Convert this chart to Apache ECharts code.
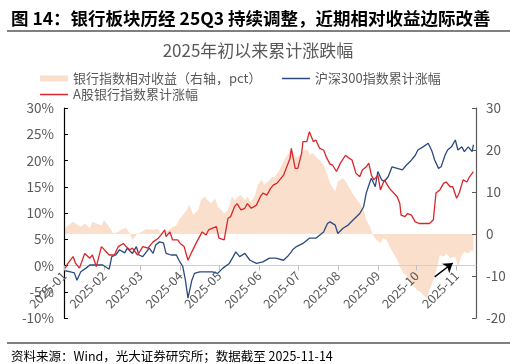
<!DOCTYPE html>
<html><head><meta charset="utf-8">
<script src="https://cdn.jsdelivr.net/npm/echarts@6/dist/echarts.min.js"></script>
<style>html,body{margin:0;padding:0;background:#fff}#c{width:516px;height:364px}</style>
</head><body><div id="c"></div>
<script>
const YEAR = '2025';
const titleText = '图 14：银行板块历经 25Q3 持续调整，近期相对收益边际改善';
const subTitleText = '2025年初以来累计涨跌幅';
const sourceText = '资料来源：Wind，光大证券研究所；数据截至 2025-11-14';
const nameRel = '银行指数相对收益（右轴，pct）';
const nameHs = '沪深300指数累计涨幅';
const nameBank = 'A股银行指数累计涨幅';

const hsDates = ['01-02','01-06','01-09','01-11','01-14','01-18','01-21','01-31',
 '02-05','02-07','02-10','02-13','02-17','02-19','02-23','02-26','02-28',
 '03-03','03-08','03-11','03-13','03-16','03-19','03-21','03-25','03-29','03-31',
 '04-03','04-05','04-07','04-10','04-12','04-16','04-21','04-26','04-30',
 '05-04','05-09','05-12','05-14','05-17','05-21','05-25','05-30',
 '06-04','06-09','06-14','06-20','06-23','06-26','06-27','06-30',
 '07-05','07-10','07-15','07-21','07-24','07-26','07-30',
 '08-01','08-05','08-09','08-13','08-18','08-21','08-23','08-26','08-27','08-30',
 '09-01','09-04','09-06','09-09','09-12','09-16','09-20','09-23','09-26','09-30',
 '10-02','10-06','10-10','10-13','10-15','10-18','10-20','10-23','10-25','10-28','10-31',
 '11-02','11-05','11-07','11-10','11-13','11-14'];
const hsVals = [-1.0,-1.2,-1.4,-2.8,-1.2,-0.5,0.1,0.1,
 -0.7,1.7,2.0,3.0,2.4,3.3,2.3,3.6,2.0,
 1.7,3.3,2.3,3.9,4.5,4.3,2.3,2.0,2.0,1.0,
 -0.2,-2.8,-6.2,-2.8,-1.5,-1.2,-1.2,-1.2,-1.5,
 -0.5,0.4,1.7,2.6,1.7,2.3,1.0,0.4,
 0.7,1.4,1.4,1.0,1.7,2.6,3.0,3.6,
 4.2,5.2,5.2,6.4,8.0,8.3,7.7,
 6.1,7.1,7.7,8.7,9.9,11.2,13.8,16.0,16.6,15.0,
 17.9,16.3,16.0,16.9,18.8,18.5,18.2,19.1,19.8,21.0,
 22.0,22.6,23.3,21.7,20.1,18.5,18.8,21.0,22.0,22.6,23.9,
 22.0,22.6,21.7,22.6,21.7,23.0];

const bankDates = ['01-02','01-04','01-08','01-10','01-13','01-17','01-21','01-23','01-26','01-30',
 '02-05','02-09','02-12','02-16','02-18','02-21','02-23','02-27',
 '03-03','03-07','03-11','03-15','03-17','03-20','03-21','03-24','03-26','03-30',
 '04-01','04-04','04-07','04-10','04-14','04-18','04-21','04-23','04-26','04-29',
 '05-01','05-05','05-08','05-10','05-13','05-15','05-18','05-21','05-23','05-26','05-30',
 '06-02','06-04','06-07','06-10','06-12','06-15','06-17','06-20','06-22','06-25','06-26','06-29',
 '07-01','07-04','07-05','07-08','07-10','07-13','07-15','07-18','07-21','07-23','07-26','07-28','07-31',
 '08-03','08-07','08-10','08-12','08-15','08-18','08-20','08-23','08-25','08-27','08-29',
 '09-01','09-03','09-06','09-10','09-16','09-18','09-19','09-22','09-24','09-27','09-30',
 '10-03','10-08','10-11','10-14','10-16','10-19','10-22','10-24','10-27','10-29',
 '11-01','11-03','11-06','11-09','11-11','11-14'];
const bankVals = [-0.5,0.4,1.7,0.4,-0.5,2.3,1.4,2.0,-0.2,3.6,
 2.0,2.0,3.6,4.2,3.6,3.0,3.3,2.0,
 3.6,3.3,4.5,5.2,5.8,6.8,5.5,6.4,4.9,4.9,
 4.2,3.6,1.0,2.6,4.6,6.4,5.8,6.8,7.1,7.4,
 5.2,4.9,9.0,9.3,11.2,11.8,10.6,10.9,11.8,10.9,11.5,
 13.1,13.8,13.4,14.7,15.3,15.7,16.3,17.2,18.5,20.4,22.3,18.5,
 18.5,21.4,23.6,23.6,25.5,23.6,23.9,22.3,22.0,20.7,19.3,19.1,17.9,
 19.5,21.0,20.4,20.1,17.6,16.9,18.2,18.8,19.5,17.2,16.3,
 17.2,14.4,16.3,14.7,13.1,11.8,9.6,9.3,9.9,9.6,8.3,
 8.0,8.0,8.0,8.7,13.8,14.4,15.7,15.9,15.0,15.0,
 12.8,13.8,16.3,15.9,16.9,17.9];

const relDates = ['01-02','01-03','01-08','01-12','01-14','01-17','01-21','01-23','01-26','01-30',
 '02-01','02-05','02-08','02-12','02-14','02-18','02-21','02-23','02-26',
 '03-02','03-06','03-11','03-15','03-17','03-21','03-25','03-29','03-31',
 '04-03','04-06','04-08','04-11','04-15','04-17','04-20','04-22','04-25','04-28','04-30',
 '05-03','05-05','05-08','05-11','05-13','05-16','05-18','05-21','05-23','05-26','05-29','05-31',
 '06-03','06-05','06-08','06-11','06-13','06-16','06-18','06-21','06-24','06-26','06-29',
 '07-01','07-04','07-06','07-09','07-10','07-13','07-16','07-18','07-21','07-23','07-26','07-30',
 '08-01','08-05','08-08','08-10','08-14','08-18','08-21','08-23','08-26','08-28','08-31',
 '09-03','09-05','09-08','09-10','09-13','09-16','09-18','09-21','09-23','09-26','09-28',
 '10-01','10-04','10-06','10-09','10-10','10-11','10-14','10-17','10-19','10-22','10-24','10-27','10-31',
 '11-02','11-05','11-07','11-10','11-13','11-14'];
const relVals = [1.2,1.7,2.9,2.1,1.7,2.5,1.4,2.9,2.5,2.1,
 3.3,1.7,0.2,0.5,1.0,1.4,0.2,-1.4,-0.2,
 0.5,1.2,1.0,1.2,0.2,0.5,1.4,2.1,3.3,
 4.5,5.7,7.0,4.5,5.7,8.1,8.9,8.1,7.3,8.5,6.5,
 5.7,4.9,5.7,8.9,8.1,8.9,9.3,8.1,8.9,7.7,9.3,11.7,
 12.9,11.7,12.5,13.6,13.6,14.8,16.0,18.0,19.2,20.4,18.4,
 18.4,19.2,20.0,20.0,18.8,19.2,18.0,17.6,16.4,14.8,12.1,10.1,
 12.5,13.3,12.1,10.9,8.9,7.3,5.7,3.3,1.7,-0.2,-1.4,
 -2.2,-1.0,-1.4,-3.0,-4.6,-6.2,-7.8,-9.4,-9.8,-11.7,-12.1,
 -13.3,-13.8,-14.5,-15.3,-15.3,-13.3,-11.0,-7.8,-5.0,-5.4,-4.6,-5.8,-5.4,
 -7.8,-5.0,-4.2,-4.6,-3.8,-4.6];

const leftTicks = {min:-10, max:30, interval:5};
const rightTicks = {min:-20, max:30, interval:10};
const xRange = {min:'2025-01-01', max:'2025-11-16'};
const arrowFrom = ['2025-10-15', -10.2];
const arrowTo = ['2025-10-29', -6.9];

const FONT = '"Noto Sans CJK SC","Noto Sans",sans-serif';
const pair = (ds, vs) => ds.map((d, i) => [YEAR + '-' + d, vs[i]]);
const DAY = 864e5;
const RED = '#D9252B', NAVY = '#2B4A7E', PEACH = '#FADFCC';
const legendText = {fontFamily: FONT, fontSize: 13, color: '#595959'};
const GRID = {left: 64, right: 40, top: 108, bottom: 46};
// place the category line at the left axis zero
const plotH = 364 - GRID.top - GRID.bottom;
const zeroOffset = -plotH * (0 - leftTicks.min) / (leftTicks.max - leftTicks.min);

const chart = echarts.init(document.getElementById('c'), null, {renderer: 'canvas'});
chart.setOption({
  animation: false,
  backgroundColor: '#fff',
  textStyle: {fontFamily: FONT},
  title: [
    {text: titleText, left: 6, top: 5, textStyle: {fontFamily: FONT, fontSize: 17.5, fontWeight: 'bold', color: '#000'}},
    {text: subTitleText, left: 'center', top: 37, textStyle: {fontFamily: FONT, fontSize: 17, fontWeight: 'normal', color: '#595959'}},
    {text: sourceText, left: 6, top: 345, textStyle: {fontFamily: FONT, fontSize: 12.5, fontWeight: 'normal', color: '#000'}}
  ],
  graphic: [
    {type: 'line', shape: {x1: 7, y1: 31, x2: 510, y2: 31}, style: {stroke: '#000', lineWidth: 1}},
    {type: 'line', shape: {x1: 7, y1: 343, x2: 510, y2: 343}, style: {stroke: '#000', lineWidth: 1}}
  ],
  legend: [
    {data: [{name: nameRel, icon: 'rect'}], left: 35, top: 67, itemWidth: 28, itemHeight: 6, textStyle: legendText},
    {data: [{name: nameHs, icon: 'rect'}], left: 277, top: 67, itemWidth: 28, itemHeight: 1.5, textStyle: legendText},
    {data: [{name: nameBank, icon: 'rect'}], left: 35, top: 83, itemWidth: 28, itemHeight: 1.5, textStyle: legendText}
  ],
  grid: GRID,
  xAxis: {
    type: 'time', min: xRange.min, max: xRange.max, offset: zeroOffset, z: 2,
    minInterval: 28 * DAY, maxInterval: 31 * DAY, splitNumber: 11,
    axisLine: {onZero: false, lineStyle: {color: '#D0D0D0', width: 1}},
    axisTick: {show: true, length: 5, lineStyle: {color: '#BFBFBF'}},
    axisLabel: {rotate: 45, fontSize: 12.5, color: '#595959', margin: 8, hideOverlap: false,
      formatter: v => { const d = new Date(v); return d.getFullYear() + '-' + String(d.getMonth() + 1).padStart(2, '0'); }},
    splitLine: {show: false}
  },
  yAxis: [
    {type: 'value', min: leftTicks.min, max: leftTicks.max, interval: leftTicks.interval, z: 2,
     axisLine: {show: true, onZero: false, lineStyle: {color: '#000', width: 1.2}},
     axisTick: {show: true, inside: true, length: 4, lineStyle: {color: '#000'}},
     axisLabel: {formatter: '{value}%', fontSize: 13.5, color: '#595959', margin: 10},
     splitLine: {show: false}},
    {type: 'value', position: 'right', min: rightTicks.min, max: rightTicks.max, interval: rightTicks.interval, z: 2,
     axisLine: {show: true, onZero: false, lineStyle: {color: '#595959', width: 1.2}},
     axisTick: {show: true, inside: true, length: 4, lineStyle: {color: '#595959'}},
     axisLabel: {fontSize: 13.5, color: '#595959', margin: 10},
     splitLine: {show: false}}
  ],
  series: [
    {name: nameRel, type: 'line', yAxisIndex: 1, data: pair(relDates, relVals), symbol: 'none',
     lineStyle: {width: 0}, areaStyle: {color: PEACH, opacity: 1}, itemStyle: {color: PEACH}, z: 1,
     markLine: {silent: true, symbol: ['none', 'arrow'], symbolSize: 9, label: {show: false}, z: 5,
       lineStyle: {color: '#000', width: 1.5, type: 'solid'},
       data: [[{coord: arrowFrom}, {coord: arrowTo}]]}},
    {name: nameHs, type: 'line', yAxisIndex: 0, data: pair(hsDates, hsVals), symbol: 'none',
     lineStyle: {width: 1.3, color: NAVY}, itemStyle: {color: NAVY}, z: 3},
    {name: nameBank, type: 'line', yAxisIndex: 0, data: pair(bankDates, bankVals), symbol: 'none',
     lineStyle: {width: 1.3, color: RED}, itemStyle: {color: RED}, z: 4}
  ]
});
</script></body></html>
